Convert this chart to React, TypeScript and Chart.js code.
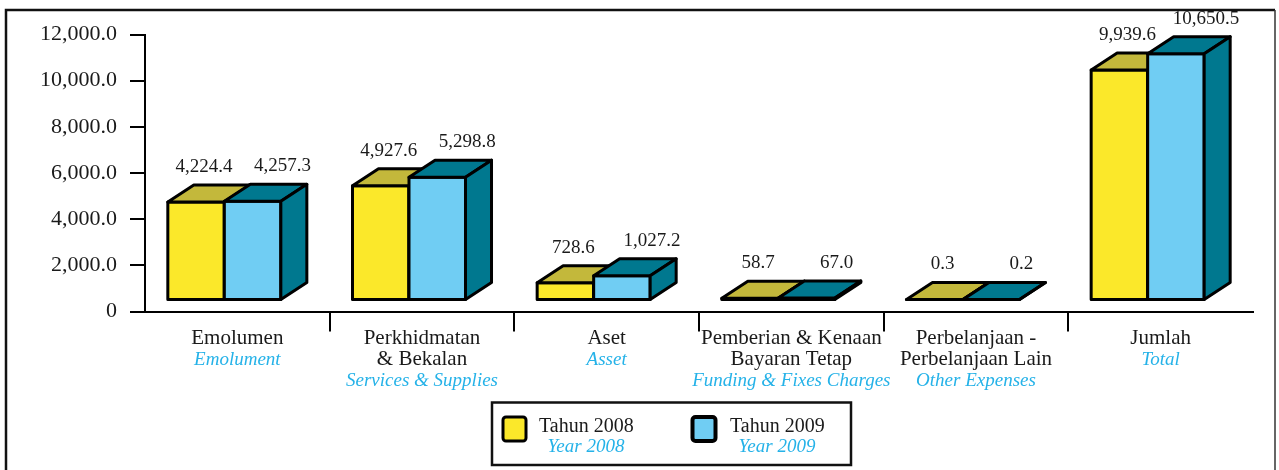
import { useEffect, useRef } from 'react';
import { Chart, registerables } from 'chart.js';

Chart.register(...registerables);

const categoriesMs: string[][] = [
  ['Emolumen'],
  ['Perkhidmatan', '& Bekalan'],
  ['Aset'],
  ['Pemberian & Kenaan', 'Bayaran Tetap'],
  ['Perbelanjaan -', 'Perbelanjaan Lain'],
  ['Jumlah'],
];
const categoriesEn: string[] = [
  'Emolument',
  'Services & Supplies',
  'Asset',
  'Funding & Fixes Charges',
  'Other Expenses',
  'Total',
];
const values2008: number[] = [4224.4, 4927.6, 728.6, 58.7, 0.3, 9939.6];
const values2009: number[] = [4257.3, 5298.8, 1027.2, 67.0, 0.2, 10650.5];
const seriesMs: string[] = ['Tahun 2008', 'Tahun 2009'];
const seriesEn: string[] = ['Year 2008', 'Year 2009'];
const yMin = 0;
const yMax = 12000;
const yStep = 2000;

const FONT = '"Liberation Serif", "Times New Roman", serif';
const CYAN = '#25b2e8';
const TEXT = '#1a1a1a';
const DX = 26;
const DY = 17;
const DROP = 12;
const faces = [
  { front: '#fbe82a', top: '#c3b83b', side: '#a89d22' },
  { front: '#70cdf3', top: '#00788f', side: '#00788f' },
];
const labelShift = [8, 30];

const fmt = (v: number) =>
  v.toLocaleString('en-US', { minimumFractionDigits: 1, maximumFractionDigits: 1 });

const bars3d = {
  id: 'bars3d',
  afterDatasetsDraw(chart: any) {
    const ctx = chart.ctx;
    const y = chart.scales.y;
    const n = chart.data.labels.length;
    ctx.save();
    ctx.lineWidth = 3;
    ctx.lineJoin = 'round';
    ctx.strokeStyle = '#000';
    const labels: { x: number; y: number; t: string }[] = [];
    for (let i = 0; i < n; i++) {
      for (let d = 0; d < chart.data.datasets.length; d++) {
        const meta = chart.getDatasetMeta(d);
        const el = meta.data[i];
        const v = chart.data.datasets[d].data[i] as number;
        const xl = el.x - el.width / 2 - DX / 2;
        const xr = el.x + el.width / 2 - DX / 2;
        const yb = y.getPixelForValue(0) - DROP;
        const yt = y.getPixelForValue(v) - DROP;
        const f = faces[d];
        ctx.beginPath();
        ctx.rect(xl, yt, xr - xl, yb - yt);
        ctx.fillStyle = f.front;
        ctx.fill();
        ctx.stroke();
        ctx.beginPath();
        ctx.moveTo(xl, yt);
        ctx.lineTo(xl + DX, yt - DY);
        ctx.lineTo(xr + DX, yt - DY);
        ctx.lineTo(xr, yt);
        ctx.closePath();
        ctx.fillStyle = f.top;
        ctx.fill();
        ctx.stroke();
        ctx.beginPath();
        ctx.moveTo(xr, yt);
        ctx.lineTo(xr + DX, yt - DY);
        ctx.lineTo(xr + DX, yb - DY);
        ctx.lineTo(xr, yb);
        ctx.closePath();
        ctx.fillStyle = f.side;
        ctx.fill();
        ctx.stroke();
        labels.push({ x: (xl + xr) / 2 + labelShift[d], y: yt - DY - 13, t: fmt(v) });
      }
    }
    ctx.fillStyle = TEXT;
    ctx.font = `19px ${FONT}`;
    ctx.textAlign = 'center';
    ctx.textBaseline = 'alphabetic';
    labels.forEach((l) => ctx.fillText(l.t, l.x, l.y));
    ctx.restore();
  },
  afterDraw(chart: any) {
    const ctx = chart.ctx;
    const xs = chart.scales.x;
    ctx.save();
    ctx.strokeStyle = '#111';
    ctx.lineWidth = 2.5;
    ctx.beginPath();
    ctx.moveTo(6, 470);
    ctx.lineTo(6, 10);
    ctx.lineTo(1275, 10);
    ctx.stroke();
    ctx.lineWidth = 1.5;
    ctx.strokeStyle = '#333';
    ctx.beginPath();
    ctx.moveTo(1275, 10);
    ctx.lineTo(1275, 470);
    ctx.stroke();

    ctx.textAlign = 'center';
    ctx.textBaseline = 'alphabetic';
    const base = xs.top + 32.5;
    const lh = 21;
    for (let i = 0; i < categoriesMs.length; i++) {
      const cx = xs.getPixelForValue(i);
      let k = 0;
      ctx.fillStyle = TEXT;
      ctx.font = `21px ${FONT}`;
      categoriesMs[i].forEach((line) => {
        ctx.fillText(line, cx, base + lh * k);
        k++;
      });
      ctx.fillStyle = CYAN;
      ctx.font = `italic 19px ${FONT}`;
      ctx.fillText(categoriesEn[i], cx, base + lh * k);
    }

    ctx.strokeStyle = '#111';
    ctx.lineWidth = 2.5;
    ctx.strokeRect(492, 402.5, 359, 62.5);
    const items = [
      { sx: 503, tx: 539, cx: 586 },
      { sx: 692.5, tx: 730, cx: 777 },
    ];
    items.forEach((it, d) => {
      ctx.beginPath();
      if (ctx.roundRect) ctx.roundRect(it.sx, 417, 23, 24, 3);
      else ctx.rect(it.sx, 417, 23, 24);
      ctx.fillStyle = faces[d].front;
      ctx.fill();
      ctx.lineWidth = d === 0 ? 3 : 4;
      ctx.strokeStyle = '#000';
      ctx.stroke();
      ctx.textAlign = 'left';
      ctx.fillStyle = TEXT;
      ctx.font = `20px ${FONT}`;
      ctx.fillText(seriesMs[d], it.tx, 432);
      ctx.textAlign = 'center';
      ctx.fillStyle = CYAN;
      ctx.font = `italic 19px ${FONT}`;
      ctx.fillText(seriesEn[d], it.cx, 452);
    });
    ctx.restore();
  },
};

export default function App() {
  const ref = useRef<HTMLCanvasElement | null>(null);
  useEffect(() => {
    if (!ref.current) return;
    Chart.defaults.font.family = FONT;
    const chart = new Chart(ref.current, {
      type: 'bar',
      data: {
        labels: categoriesEn,
        datasets: [
          { label: seriesEn[0], data: values2008, backgroundColor: 'rgba(0,0,0,0)', borderWidth: 0 },
          { label: seriesEn[1], data: values2009, backgroundColor: 'rgba(0,0,0,0)', borderWidth: 0 },
        ],
      },
      options: {
        responsive: false,
        animation: false,
        events: [],
        layout: { padding: { top: 34.5, right: 26, bottom: 138.5, left: 0 } },
        datasets: { bar: { categoryPercentage: 0.612, barPercentage: 1 } } as any,
        plugins: { legend: { display: false }, tooltip: { enabled: false } },
        scales: {
          x: {
            offset: true,
            ticks: { display: false },
            grid: {
              offset: true,
              drawOnChartArea: false,
              tickLength: 20,
              lineWidth: 2,
              color: (c: any) => (c.type === 'tick' && c.index > 0 ? '#000' : 'rgba(0,0,0,0)'),
            },
            border: { color: '#000', width: 2 },
            afterFit: (s: any) => {
              s.height = 20;
            },
          },
          y: {
            min: yMin,
            max: yMax,
            ticks: {
              stepSize: yStep,
              color: TEXT,
              padding: 13,
              font: { size: 22, family: FONT },
              callback: (v: any) => (Number(v) === 0 ? '0' : fmt(Number(v))),
            },
            grid: { drawOnChartArea: false, tickLength: 15, lineWidth: 2, color: '#000' },
            border: { color: '#000', width: 2 },
            afterFit: (s: any) => {
              s.width = 145;
            },
          },
        },
      },
      plugins: [bars3d],
    });
    return () => chart.destroy();
  }, []);
  return (
    <div style={{ position: 'absolute', left: 0, top: 0, width: 1279, height: 470, background: '#fff' }}>
      <canvas ref={ref} width={1279} height={470} />
    </div>
  );
}
